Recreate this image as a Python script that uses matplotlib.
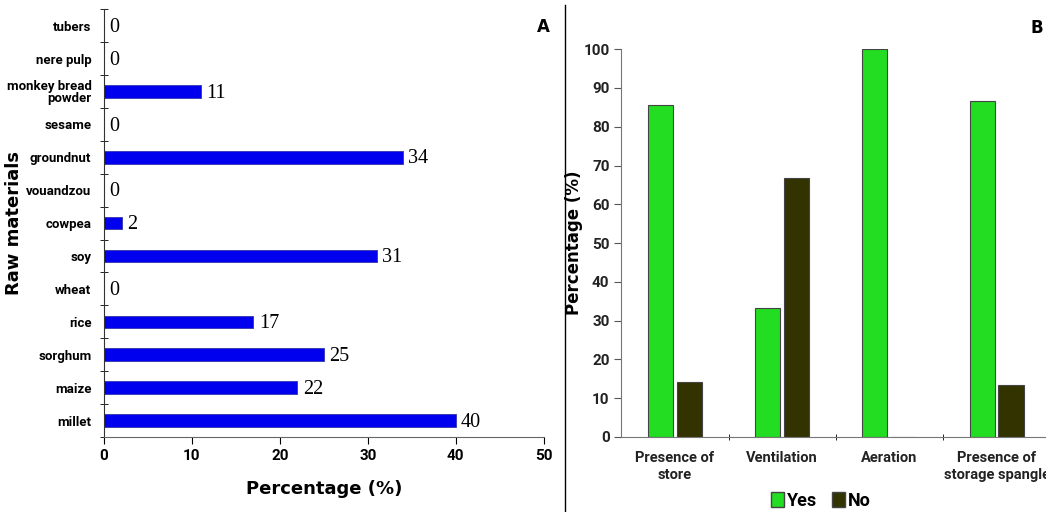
import matplotlib
matplotlib.use("Agg")
import matplotlib.pyplot as plt
from matplotlib.lines import Line2D
from matplotlib.patches import Patch
import numpy as np

# panel A data (bottom to top)
materials = ['millet', 'maize', 'sorghum', 'rice', 'wheat', 'soy', 'cowpea',
             'vouandzou', 'groundnut', 'sesame', 'monkey bread\npowder',
             'nere pulp', 'tubers']
pct_used = [40, 22, 25, 17, 0, 31, 2, 0, 34, 0, 11, 0, 0]

# panel B data
storage_items = ['Presence of\nstore', 'Ventilation', 'Aeration',
                 'Presence of\nstorage spangle']
yes_pct = [85.7, 33.3, 100, 86.7]
no_pct = [14.3, 66.7, 0, 13.3]

blue = '#0000ee'
green = '#22dd22'
dark = '#333300'
narrow = ['Roboto', 'DejaVu Sans']

fig = plt.figure(figsize=(10.46, 5.12), dpi=100)

# ---- panel A
ax1 = fig.add_axes([0.0994, 0.1465, 0.4203, 0.8355])
ypos = np.arange(len(materials))
ax1.barh(ypos, pct_used, height=0.38, color=blue, edgecolor='#3333aa', lw=0.6)
for y, v in zip(ypos, pct_used):
    ax1.text(v + 0.6, y - 0.05, str(v), va='center', ha='left',
             family='Liberation Serif', fontsize=14.5)
ax1.set_xlim(0, 50)
ax1.set_ylim(-0.5, len(materials) - 0.5)
ax1.set_xticks(range(0, 51, 10))
ax1.set_xticklabels([str(t) for t in range(0, 51, 10)], fontsize=11,
                    fontweight='bold', family=narrow)
ax1.set_yticks(ypos)
ax1.set_yticklabels(materials, fontsize=9.5, linespacing=0.95,
                    family=narrow, fontweight='bold')
ax1.set_yticks(np.arange(-0.5, len(materials), 1), minor=True)
ax1.tick_params(axis='y', which='major', length=0, pad=9)
ax1.tick_params(axis='y', which='minor', length=6, direction='inout')
ax1.tick_params(axis='x', length=5, direction='out', pad=4)
for s in ['top', 'right']:
    ax1.spines[s].set_visible(False)
ax1.spines['left'].set_color('#333333')
ax1.spines['bottom'].set_color('#666666')
ax1.set_xlabel('Percentage (%)', fontsize=13, fontweight='bold', labelpad=12)
ax1.set_ylabel('Raw materials', fontsize=13, fontweight='bold')
ax1.yaxis.set_label_coords(-0.185, 0.5)
fig.text(0.519, 0.938, 'A', fontsize=12, fontweight='bold', ha='center')

# separator line between panels
fig.add_artist(Line2D([0.540, 0.540], [0.0, 0.99], color='black', lw=1.0))

# ---- panel B
ax2 = fig.add_axes([0.594, 0.1465, 0.41, 0.7575])
xpos = np.arange(len(storage_items))
ax2.bar(xpos - 0.135, yes_pct, width=0.235, color=green, edgecolor='#444444',
        lw=0.8, label='Yes')
ax2.bar(xpos + 0.135, no_pct, width=0.235, color=dark, edgecolor='#444444',
        lw=0.8, label='No')
ax2.set_xlim(-0.5, len(storage_items) - 0.5)
ax2.set_ylim(0, 100)
ax2.set_yticks(range(0, 101, 10))
ax2.set_yticklabels([str(t) for t in range(0, 101, 10)], fontsize=11,
                    fontweight='bold', color='#222222', family=narrow)
ax2.set_xticks(xpos)
ax2.set_xticklabels(storage_items, fontsize=10.5, fontweight='bold',
                    color='#222222', linespacing=1.3, family=narrow)
ax2.set_xticks(np.arange(0.5, len(storage_items) - 0.5, 1), minor=True)
ax2.tick_params(axis='x', which='major', length=0, pad=10)
ax2.tick_params(axis='x', which='minor', length=5, direction='inout')
ax2.tick_params(axis='y', length=5, direction='out', color='#555555')
for s in ['top', 'right']:
    ax2.spines[s].set_visible(False)
ax2.spines['left'].set_color('#777777')
ax2.spines['bottom'].set_color('#777777')
ax2.set_ylabel('Percentage (%)', fontsize=12, fontweight='bold')
ax2.yaxis.set_label_coords(-0.09, 0.5)
handles = [Patch(facecolor=green, edgecolor='#444444', label='Yes'),
           Patch(facecolor=dark, edgecolor='#444444', label='No')]
fig.legend(handles=handles, loc='center', bbox_to_anchor=(0.785, 0.022),
           ncol=2, frameon=False, prop={'weight': 'bold', 'size': 13,
                                        'family': narrow},
           handlelength=0.7, handleheight=0.9, handletextpad=0.2,
           columnspacing=0.8)
fig.text(0.991, 0.935, 'B', fontsize=12, fontweight='bold', ha='center')

fig.savefig('out.png', dpi=100)
